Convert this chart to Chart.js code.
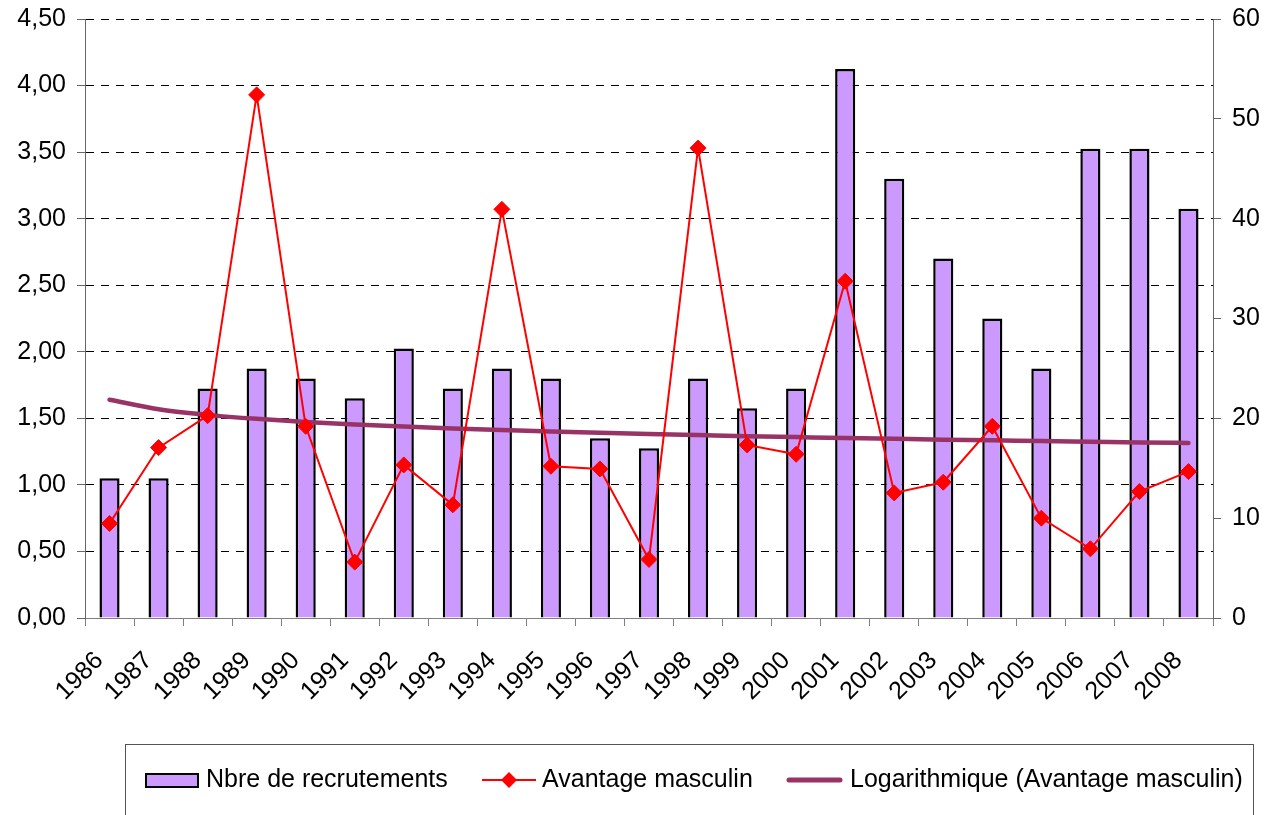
<!DOCTYPE html>
<html>
<head>
<meta charset="utf-8">
<script src="https://cdn.jsdelivr.net/npm/chart.js@4/dist/chart.umd.min.js"></script>
<style>
  html, body { margin: 0; padding: 0; background: #fff; overflow: hidden; }
  #wrap { width: 1269px; height: 815px; }
</style>
</head>
<body>
<div id="wrap"><canvas id="chart" width="1269" height="815"></canvas></div>
<script>
// Years on the x axis
const years = ["1986", "1987", "1988", "1989", "1990", "1991", "1992", "1993", "1994", "1995", "1996", "1997",
               "1998", "1999", "2000", "2001", "2002", "2003", "2004", "2005", "2006", "2007", "2008"];

// Bars, right axis (0 - 60)
const recrutements = [14, 14, 23, 25, 24, 22, 27, 23, 25, 24, 18, 17, 24, 21, 23, 55, 44, 36, 30, 25, 47, 47, 41];

// Red line, left axis (0 - 4,50)
const avantage = [0.71, 1.28, 1.52, 3.93, 1.44, 0.42, 1.15, 0.85, 3.07, 1.14, 1.12, 0.44,
                  3.53, 1.30, 1.23, 2.53, 0.94, 1.02, 1.44, 0.75, 0.52, 0.95, 1.10];

// Log trend of the red line
const tendance = [1.640, 1.568, 1.526, 1.496, 1.473, 1.454, 1.438, 1.424, 1.412, 1.401, 1.391, 1.382,
                  1.374, 1.366, 1.359, 1.352, 1.346, 1.340, 1.335, 1.329, 1.324, 1.319, 1.315];

const FONT = "'Liberation Sans', Arial, sans-serif";
const TICK_SIZE = 25;
const LEGEND_SIZE = 25;

const fmt = v => v.toFixed(2).replace(".", ",");

// Excel-style legend: a bordered box that runs off the bottom of the picture.
const boxLegend = {
  id: "boxLegend",
  afterDraw(chart) {
    const ctx = chart.ctx;
    const ds = chart.data.datasets;
    const cy = 780;
    ctx.save();
    ctx.strokeStyle = "#555";
    ctx.lineWidth = 1;
    ctx.strokeRect(125.5, 744.5, 1128, 120);

    ctx.font = `${LEGEND_SIZE}px ${FONT}`;
    ctx.textBaseline = "middle";

    // bars
    ctx.fillStyle = ds[0].backgroundColor;
    ctx.fillRect(145, 773, 54, 15);
    ctx.strokeStyle = "#000";
    ctx.lineWidth = 2;
    ctx.strokeRect(146, 774, 52, 13);
    ctx.fillStyle = "#000";
    ctx.fillText(ds[0].label, 206, cy);

    // red line with diamond
    ctx.strokeStyle = ds[1].borderColor;
    ctx.lineWidth = 2;
    ctx.beginPath(); ctx.moveTo(482, cy); ctx.lineTo(536, cy); ctx.stroke();
    ctx.fillStyle = ds[1].borderColor;
    ctx.beginPath();
    ctx.moveTo(509, cy - 8); ctx.lineTo(517, cy); ctx.lineTo(509, cy + 8); ctx.lineTo(501, cy);
    ctx.closePath(); ctx.fill();
    ctx.fillStyle = "#000";
    ctx.fillText(ds[1].label, 542, cy);

    // trend line
    ctx.strokeStyle = ds[2].borderColor;
    ctx.lineWidth = 5;
    ctx.lineCap = "round";
    ctx.beginPath(); ctx.moveTo(789, cy); ctx.lineTo(840, cy); ctx.stroke();
    ctx.fillText(ds[2].label, 850, cy);
    ctx.restore();
  }
};

new Chart(document.getElementById("chart"), {
  data: {
    labels: years,
    datasets: [
      {
        type: "bar",
        label: "Nbre de recrutements",
        data: recrutements,
        yAxisID: "y1",
        backgroundColor: "#cc99ff",
        borderColor: "#000",
        borderWidth: 2.5,
        categoryPercentage: 1,
        barPercentage: 0.41,
        order: 3
      },
      {
        type: "line",
        label: "Avantage masculin",
        data: avantage,
        yAxisID: "y",
        borderColor: "#ff0000",
        backgroundColor: "#ff0000",
        borderWidth: 2,
        pointStyle: "rectRot",
        pointRadius: 8,
        pointBorderWidth: 1,
        tension: 0,
        order: 1
      },
      {
        type: "line",
        label: "Logarithmique (Avantage masculin)",
        data: tendance,
        yAxisID: "y",
        borderColor: "#993366",
        borderWidth: 4.5,
        pointRadius: 0,
        cubicInterpolationMode: "monotone",
        borderCapStyle: "round",
        order: 2
      }
    ]
  },
  options: {
    responsive: false,
    devicePixelRatio: 1,
    animation: false,
    layout: { padding: { top: 19, left: 0, right: 0, bottom: 72 } },
    plugins: {
      legend: { display: false },
      tooltip: { enabled: false }
    },
    scales: {
      x: {
        offset: true,
        grid: { offset: true, drawOnChartArea: false, tickLength: 8, color: "#808080" },
        border: { color: "#808080" },
        ticks: {
          color: "#000",
          font: { family: FONT, size: TICK_SIZE },
          maxRotation: 45,
          minRotation: 45,
          autoSkip: false,
          padding: 20,
          labelOffset: -10
        },
        afterFit: s => { s.height = 125; s.paddingLeft = 0; s.paddingRight = 0; }
      },
      y: {
        position: "left",
        min: 0,
        max: 4.5,
        grid: { color: "#000", tickColor: "#666", tickLength: 8, tickBorderDash: [] },
        border: { color: "#666", dash: [8, 7] },
        ticks: {
          stepSize: 0.5,
          color: "#000",
          padding: 11,
          font: { family: FONT, size: TICK_SIZE },
          callback: v => fmt(v)
        },
        afterFit: s => { s.width = 85; s.paddingTop = 0; s.paddingBottom = 0; }
      },
      y1: {
        position: "right",
        min: 0,
        max: 60,
        grid: { drawOnChartArea: false, color: "#666", tickLength: 8 },
        border: { color: "#666" },
        ticks: {
          stepSize: 10,
          color: "#000",
          padding: 11,
          font: { family: FONT, size: TICK_SIZE }
        },
        afterFit: s => { s.width = 56; s.paddingTop = 0; s.paddingBottom = 0; }
      }
    }
  },
  plugins: [boxLegend]
});
</script>
</body>
</html>
